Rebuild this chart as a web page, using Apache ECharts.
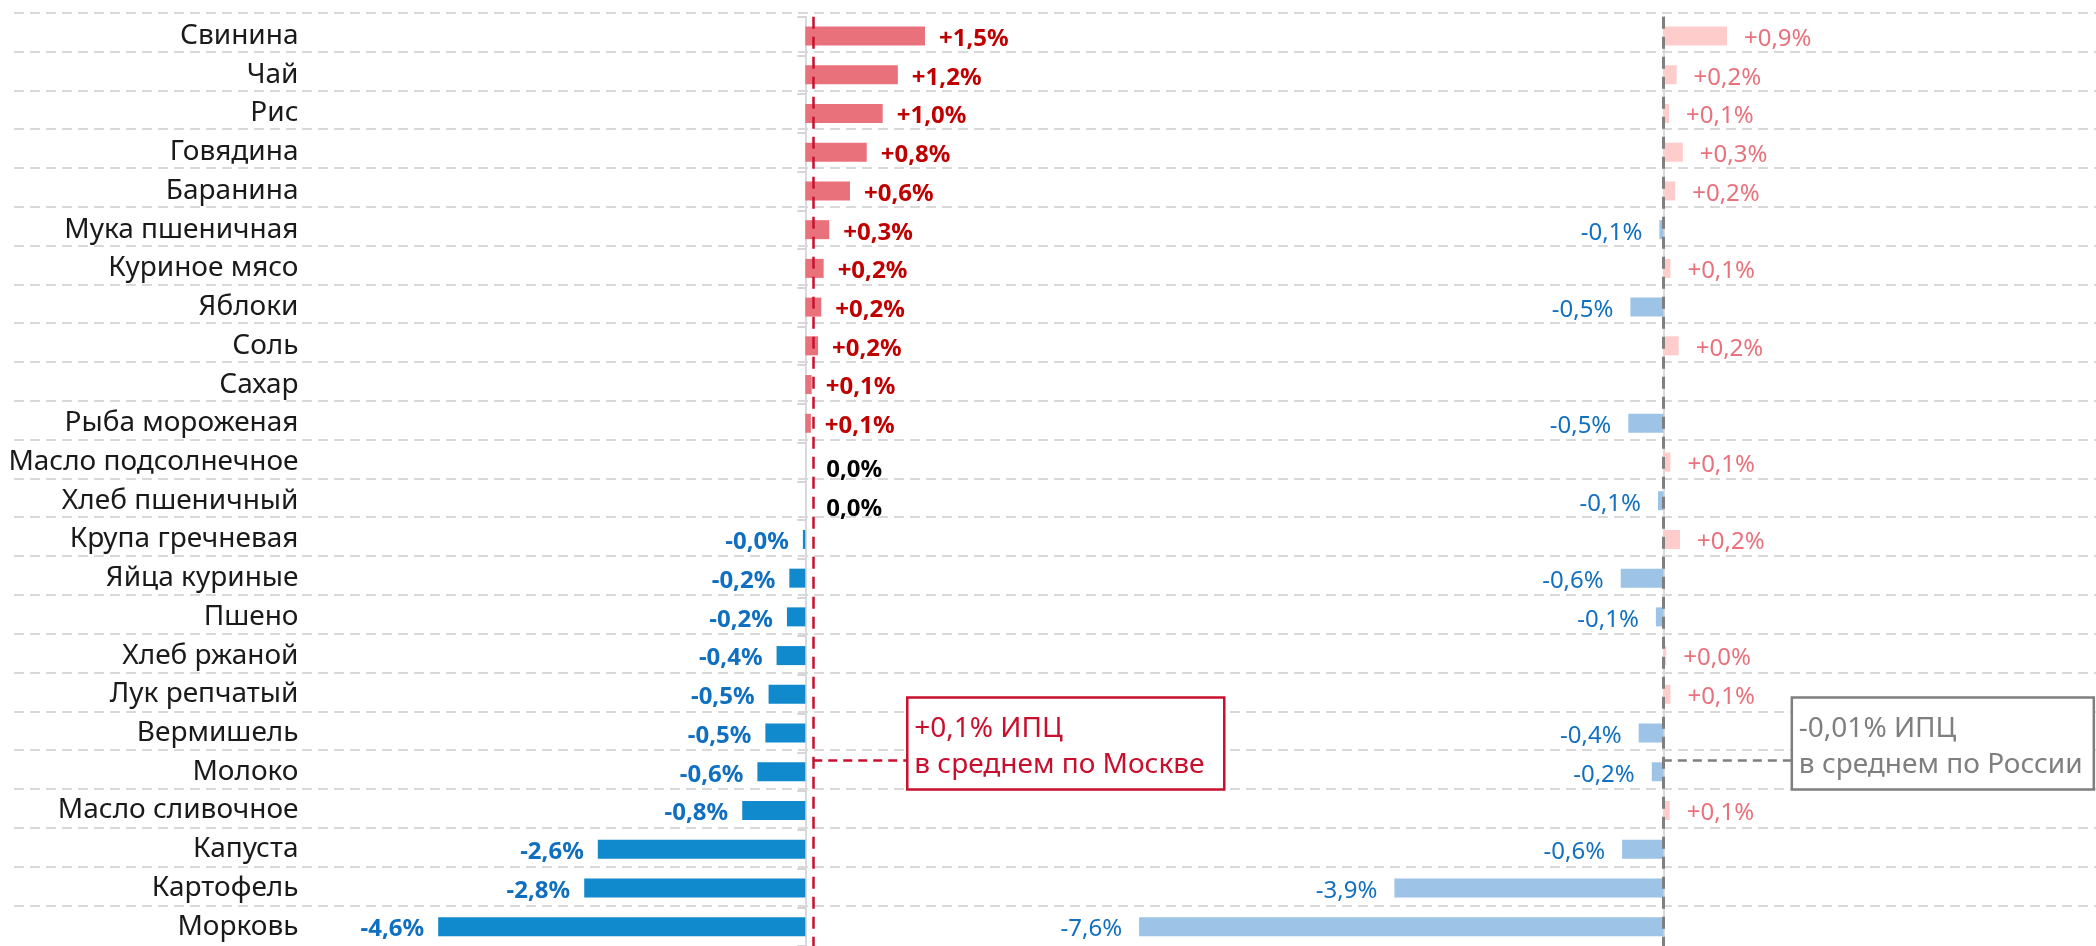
<!DOCTYPE html>
<html lang="ru">
<head>
<meta charset="utf-8">
<title>ИПЦ: Москва и Россия</title>
<script src="https://cdn.jsdelivr.net/npm/echarts@6/dist/echarts.min.js"></script>
<style>
  html, body { margin: 0; padding: 0; background: #fff; }
  #chart { width: 2096px; height: 946px; }
</style>
</head>
<body>
<div id="chart"></div>
<script>
const categories = [
  "Свинина", "Чай", "Рис", "Говядина", "Баранина", "Мука пшеничная",
  "Куриное мясо", "Яблоки", "Соль", "Сахар", "Рыба мороженая",
  "Масло подсолнечное", "Хлеб пшеничный", "Крупа гречневая", "Яйца куриные",
  "Пшено", "Хлеб ржаной", "Лук репчатый", "Вермишель", "Молоко",
  "Масло сливочное", "Капуста", "Картофель", "Морковь"
];
// изменение цен, %
const moscowValues = [
  1.5, 1.16, 0.97, 0.77, 0.56, 0.3, 0.23, 0.2, 0.16, 0.08, 0.07,
  0, 0, -0.03, -0.2, -0.23, -0.36, -0.46, -0.5, -0.6, -0.79, -2.6, -2.77, -4.6
];
const russiaValues = [
  0.92, 0.19, 0.08, 0.28, 0.17, -0.06, 0.1, -0.48, 0.22, null, -0.51,
  0.1, -0.08, 0.24, -0.62, -0.11, 0.04, 0.1, -0.36, -0.17, 0.09, -0.6, -3.9, -7.6
];
const moscowCpi = 0.1;
const russiaCpi = -0.01;

const FONT = "Noto Sans";
const RED = "#c8102e";
const GRAY = "#7f7f7f";

const fmt = (v, digits = 1) => {
  const s = v.toFixed(digits).replace(".", ",");
  return (v > 0 ? "+" : "") + s + "%";
};

const moscowData = moscowValues.map((v) => {
  if (v === 0) {
    return {
      value: v,
      label: { position: "right", color: "#000", offset: [7, 8] }
    };
  }
  return {
    value: v,
    itemStyle: { color: v > 0 ? "#e9717c" : "#1089cd" },
    label: { position: v > 0 ? "right" : "left", color: v > 0 ? "#c00000" : "#0f6fc0" }
  };
});

const russiaData = russiaValues.map((v) => {
  if (v === null) return null;
  return {
    value: v,
    itemStyle: { color: v > 0 ? "#ffcccc" : "#9dc3e6" },
    label: { position: v > 0 ? "right" : "left", color: v > 0 ? "#e9717c" : "#1170c0" }
  };
});

const chart = echarts.init(document.getElementById("chart"));

const rowsTop = 16.7;
const rowsHeight = 933;

chart.setOption({
  backgroundColor: "#fff",
  animation: false,
  textStyle: { fontFamily: FONT },
  grid: [
    { left: 310.5, width: 734.2, top: rowsTop, height: rowsHeight },
    { left: 1111.5, right: 0, top: rowsTop, height: rowsHeight },
    { left: 14, right: 0, top: 12.7, height: 892.6 }
  ],
  xAxis: [
    { type: "value", gridIndex: 0, min: -6.2, max: 3, show: false },
    { type: "value", gridIndex: 1, min: -8, max: 6.268, show: false },
    { type: "value", gridIndex: 2, min: 0, max: 1, show: false }
  ],
  yAxis: [
    {
      type: "category", gridIndex: 0, data: categories, inverse: true,
      axisLine: { show: false, onZero: false },
      axisTick: { show: false },
      axisLabel: {
        fontSize: 28, color: "#1a1a1a", margin: 12, fontFamily: FONT,
        padding: [12, 0, 0, 0]
      },
      splitLine: { show: false }
    },
    {
      type: "category", gridIndex: 0, data: categories, inverse: true, position: "left",
      axisLine: { show: true, onZero: true, lineStyle: { color: "#d9d9d9", width: 2 } },
      axisTick: { show: true, length: 8, lineStyle: { color: "#c8c8c8", width: 1.5 } },
      axisLabel: { show: false },
      splitLine: { show: false }
    },
    {
      type: "category", gridIndex: 1, data: categories, inverse: true, position: "left",
      axisLine: { show: true, onZero: true, lineStyle: { color: "#d9d9d9", width: 2 } },
      axisTick: { show: false },
      axisLabel: { show: false },
      splitLine: { show: false }
    },
    {
      type: "value", gridIndex: 2, min: 0, max: 23, interval: 1,
      axisLine: { show: false }, axisTick: { show: false }, axisLabel: { show: false },
      splitLine: { show: true, lineStyle: { color: "#d9d9d9", width: 2, type: [10, 6] } }
    }
  ],
  series: [
    {
      name: "Москва",
      type: "bar",
      xAxisIndex: 0,
      yAxisIndex: 0,
      barWidth: 19,
      data: moscowData,
      label: {
        show: true,
        distance: 14,
        fontSize: 24,
        fontWeight: "bold",
        fontFamily: FONT,
        offset: [0, 3],
        formatter: (p) => fmt(p.value)
      },
      markLine: {
        silent: true,
        symbol: "none",
        label: { show: false },
        lineStyle: { color: RED, width: 2.5, type: [12, 8] },
        data: [{ xAxis: moscowCpi }]
      },
      z: 3
    },
    {
      name: "Россия",
      type: "bar",
      xAxisIndex: 1,
      yAxisIndex: 2,
      barWidth: 19,
      data: russiaData,
      label: {
        show: true,
        distance: 17,
        fontSize: 24,
        fontFamily: FONT,
        offset: [0, 3],
        formatter: (p) => fmt(p.value)
      },
      markLine: {
        silent: true,
        symbol: "none",
        label: { show: false },
        lineStyle: { color: GRAY, width: 3, type: [12, 8] },
        data: [{ xAxis: russiaCpi }]
      },
      z: 3
    }
  ]
});

// подписи со средним ИПЦ, привязанные к линиям
const rowA = categories.indexOf("Вермишель");
const rowB = categories.indexOf("Молоко");

const callout = (gridAxes, cpi, text, color, dx, boxW) => {
  const a = chart.convertToPixel(gridAxes, [cpi, categories[rowA]]);
  const b = chart.convertToPixel(gridAxes, [cpi, categories[rowB]]);
  const x = a[0];
  const y = a[1] + (b[1] - a[1]) * 0.66 + 2;
  const left = x + dx;
  const top = y - 63;
  return [
    {
      type: "line",
      shape: { x1: x, y1: y, x2: left, y2: y },
      style: { stroke: color, lineWidth: 2.5, lineDash: [9, 6] },
      z: 10
    },
    {
      type: "rect",
      shape: { x: left, y: top, width: boxW, height: 92 },
      style: { fill: "#fff", stroke: color, lineWidth: 2.5 },
      z: 10
    },
    {
      type: "text",
      x: left + 7,
      y: top + 31,
      style: { text: text[0], fill: color, font: "28px '" + FONT + "'", verticalAlign: "middle" },
      z: 11
    },
    {
      type: "text",
      x: left + 7,
      y: top + 67,
      style: { text: text[1], fill: color, font: "28px '" + FONT + "'", verticalAlign: "middle" },
      z: 11
    }
  ];
};

chart.setOption({
  graphic: [
    ...callout({ xAxisIndex: 0, yAxisIndex: 0 }, moscowCpi,
      [fmt(moscowCpi) + " ИПЦ", "в среднем по Москве"], RED, 94, 317),
    ...callout({ xAxisIndex: 1, yAxisIndex: 2 }, russiaCpi,
      [fmt(russiaCpi, 2) + " ИПЦ", "в среднем по России"], GRAY, 129, 302)
  ]
});
</script>
</body>
</html>
